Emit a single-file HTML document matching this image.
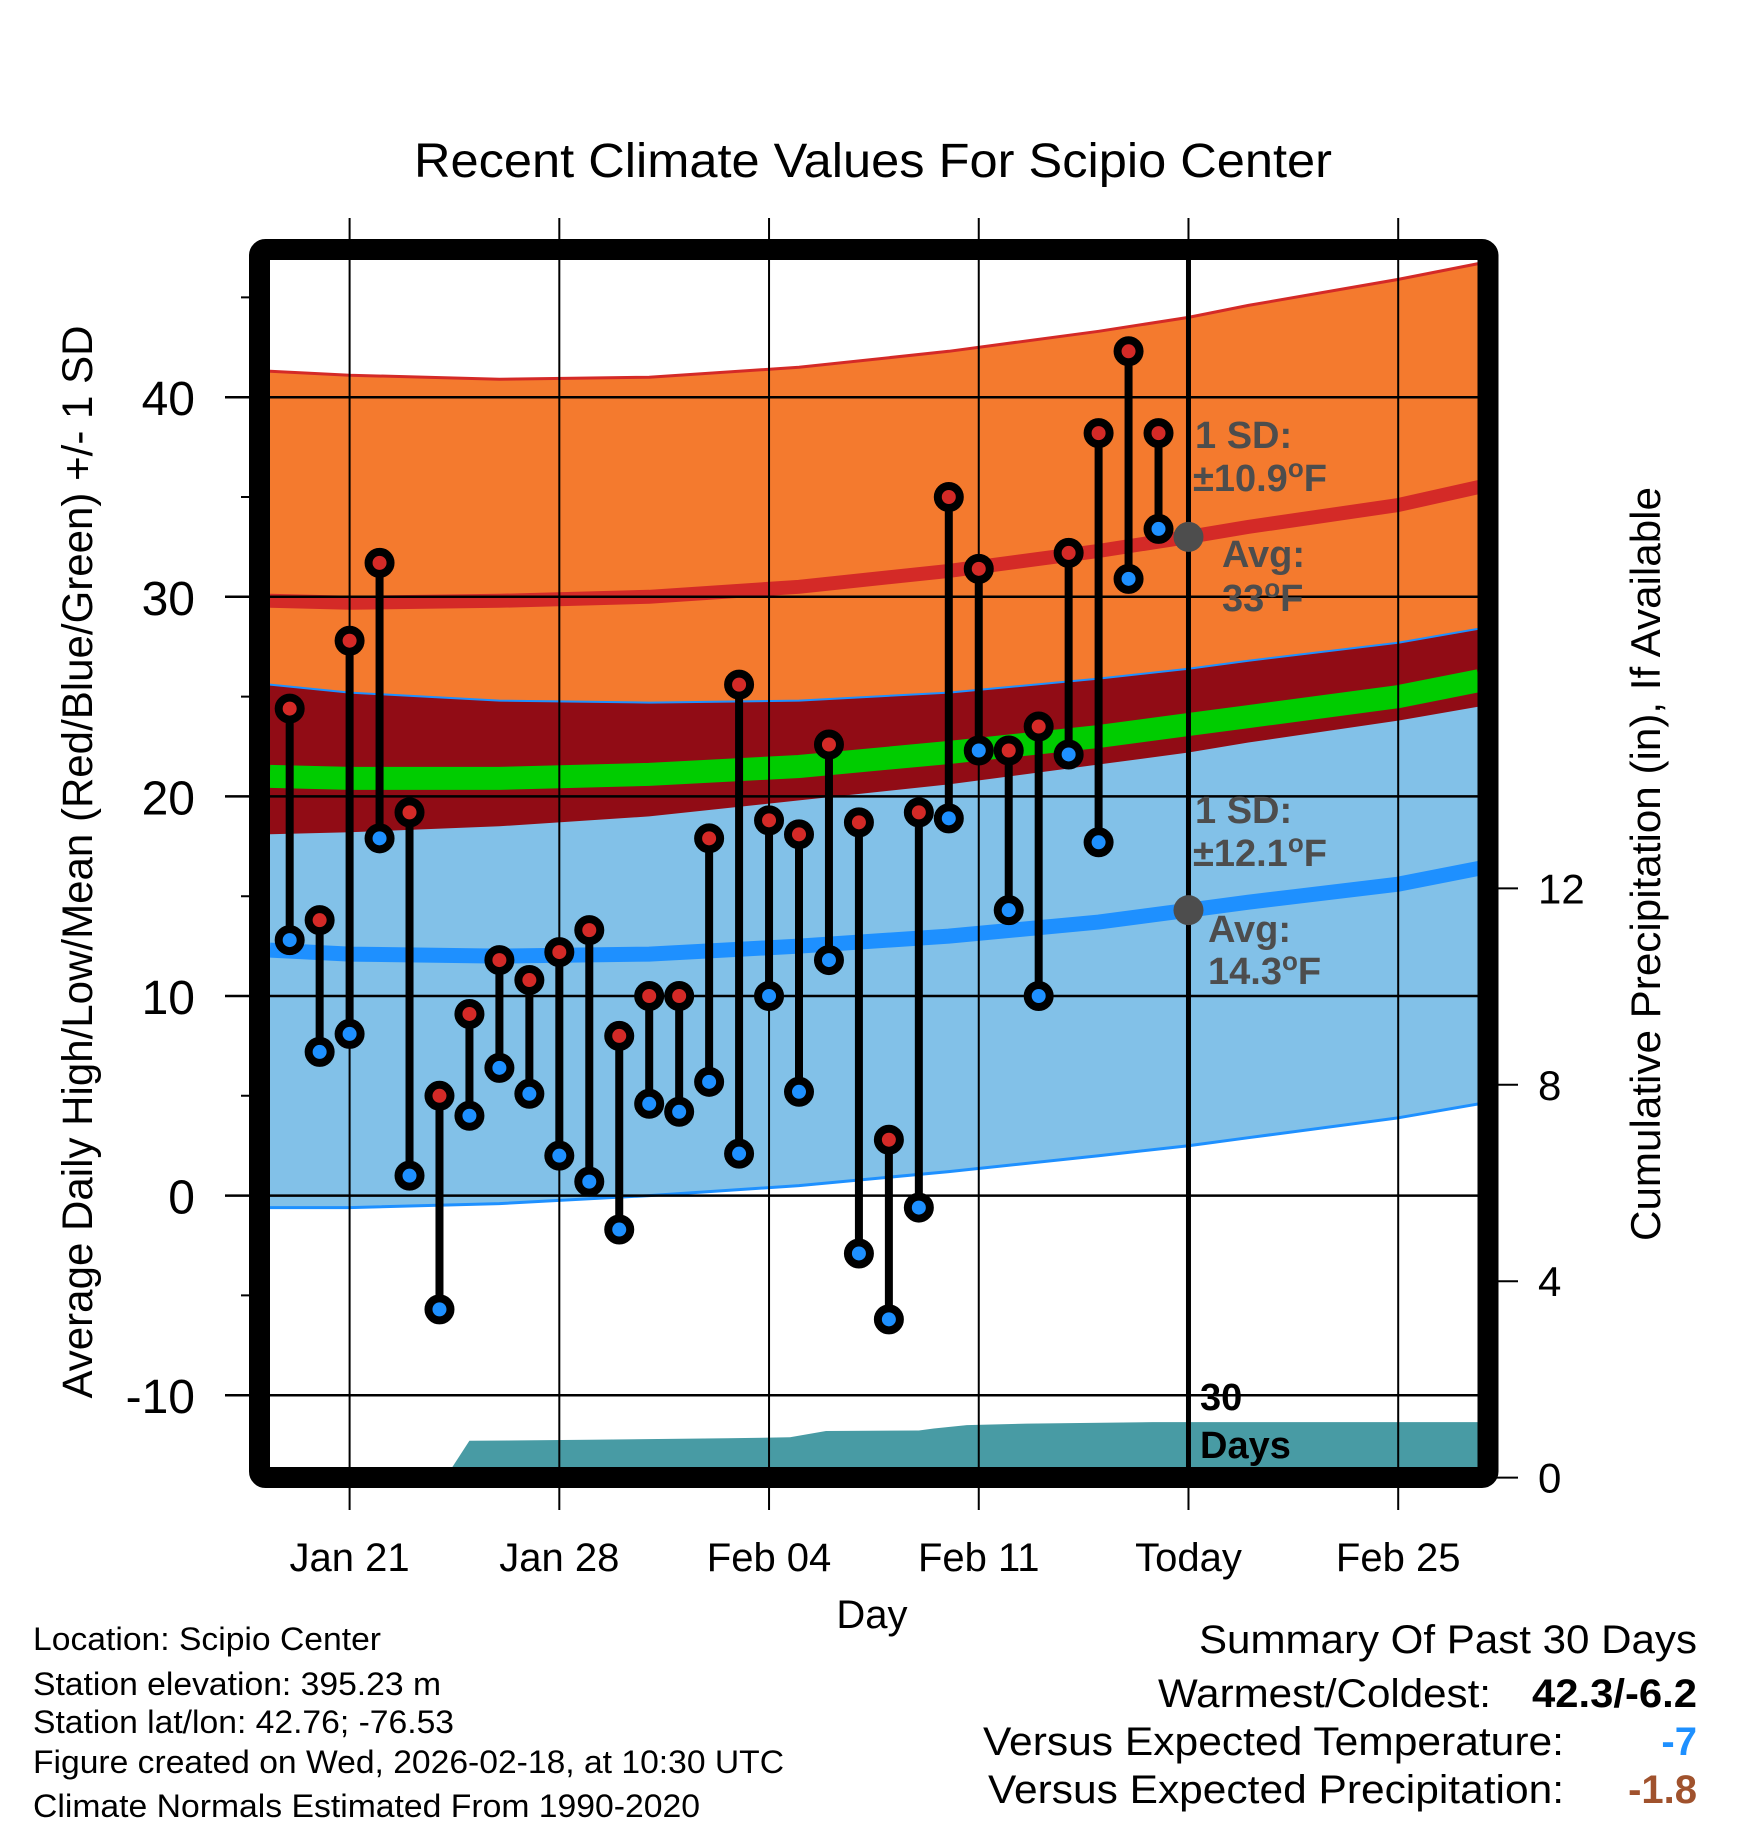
<!DOCTYPE html>
<html><head><meta charset="utf-8"><style>
html,body{margin:0;padding:0;background:#fff;}
svg{display:block;font-family:"Liberation Sans",sans-serif;}
</style></head><body>
<svg id="chart" width="1748" height="1828" viewBox="0 0 1748 1828" xmlns="http://www.w3.org/2000/svg">
<text x="873" y="177" font-size="48" text-anchor="middle" textLength="918" lengthAdjust="spacingAndGlyphs">Recent Climate Values For Scipio Center</text>
<g id="plot"></g>
<text transform="translate(92,862) rotate(-90)" font-size="43" text-anchor="middle" textLength="1073" lengthAdjust="spacingAndGlyphs">Average Daily High/Low/Mean (Red/Blue/Green) +/- 1 SD</text>
<text transform="translate(1660,864) rotate(-90)" font-size="42" text-anchor="middle" textLength="754" lengthAdjust="spacingAndGlyphs">Cumulative Precipitation (in), If Available</text>
<text x="872" y="1628" font-size="40" text-anchor="middle">Day</text>
<g font-size="32">
<text x="33" y="1650" textLength="348" lengthAdjust="spacingAndGlyphs">Location: Scipio Center</text>
<text x="33" y="1695" textLength="408" lengthAdjust="spacingAndGlyphs">Station elevation: 395.23 m</text>
<text x="33" y="1733" textLength="421" lengthAdjust="spacingAndGlyphs">Station lat/lon: 42.76; -76.53</text>
<text x="33" y="1773" textLength="751" lengthAdjust="spacingAndGlyphs">Figure created on Wed, 2026-02-18, at 10:30 UTC</text>
<text x="33" y="1817" textLength="667" lengthAdjust="spacingAndGlyphs">Climate Normals Estimated From 1990-2020</text>
</g>
<g font-size="40">
<text x="1199" y="1653" textLength="498" lengthAdjust="spacingAndGlyphs">Summary Of Past 30 Days</text>
<text x="1158" y="1707" textLength="333" lengthAdjust="spacingAndGlyphs">Warmest/Coldest:</text>
<text x="1532" y="1707" font-weight="bold" textLength="165" lengthAdjust="spacingAndGlyphs">42.3/-6.2</text>
<text x="983" y="1755" textLength="581" lengthAdjust="spacingAndGlyphs">Versus Expected Temperature:</text>
<text x="1697" y="1755" font-weight="bold" fill="#1e90ff" text-anchor="end">-7</text>
<text x="988" y="1803" textLength="576" lengthAdjust="spacingAndGlyphs">Versus Expected Precipitation:</text>
<text x="1697" y="1803" font-weight="bold" fill="#a0522d" text-anchor="end">-1.8</text>
</g>
</svg>
<script>
// ---- data ----
const dayOffsets = [-2,-1,0,1,2,3,4,5,6,7,8,9,10,11,12,13,14,15,16,17,18,19,20,21,22,23,24,25,26,27];
const highs = [24.4,13.8,27.8,31.7,19.2,5.0,9.1,11.8,10.8,12.2,13.3,8.0,10.0,10.0,17.9,25.6,18.8,18.1,22.6,18.7,2.8,19.2,35.0,31.4,22.3,23.5,32.2,38.2,42.3,38.2];
const lows = [12.8,7.2,8.1,17.9,1.0,-5.7,4.0,6.4,5.1,2.0,0.7,-1.7,4.6,4.2,5.7,2.1,10.0,5.2,11.8,-2.9,-6.2,-0.6,18.9,22.3,14.3,10.0,22.1,17.7,30.9,33.4];
const normDays = [-2.66,0,5,10,15,20,25,28,30,35,37.7];
const bandTop = [41.3,41.1,40.9,41.0,41.5,42.3,43.3,44.0,44.6,45.9,46.7];
const lowBandTop = [25.6,25.2,24.8,24.7,24.8,25.2,25.9,26.4,26.8,27.7,28.4];
const highBandBottom = [18.1,18.2,18.5,19.0,19.8,20.6,21.6,22.2,22.7,23.8,24.5];
const lowBandBottom = [-0.6,-0.6,-0.4,0.0,0.5,1.2,2.0,2.5,2.9,3.9,4.6];
const avgHigh = [29.8,29.7,29.8,30.0,30.5,31.3,32.3,33.0,33.5,34.6,35.5];
const avgLow = [12.3,12.1,12.0,12.1,12.5,13.0,13.7,14.3,14.7,15.6,16.4];
const avgMean = [21.0,20.9,20.9,21.1,21.5,22.2,23.0,23.6,24.0,25.0,25.8];
const precipDays = [-2.66,3.2,4,8,12.6,14.7,15.9,19.0,19.5,20.6,22.6,26.8,37.7];
const precipCum = [0,0,0.75,0.77,0.80,0.82,0.95,0.96,1.0,1.07,1.10,1.13,1.13];
const xTickDays = [0,7,14,21,28,35];
const xTickLabels = ["Jan 21","Jan 28","Feb 04","Feb 11","Today","Feb 25"];
const yTicks = [40,30,20,10,0,-10];
const yTickLabels = ["40","30","20","10","0","-10"];
const y2Ticks = [0,4,8,12];
const todayDay = 28;

// ---- axes ----
const L=270,R=1478,T=260,B=1468;
const x = d => 349.6 + 29.96*d;
const y = v => 1195.6 - 19.96*v;
const y2 = p => 1477.6 - 49.1*p;
const NS="http://www.w3.org/2000/svg";
const plot=document.getElementById('plot');
function mk(tag,attrs,parent){const e=document.createElementNS(NS,tag);for(const k in attrs)e.setAttribute(k,attrs[k]);(parent||plot).appendChild(e);return e;}
const clip=mk('clipPath',{id:'pc'});mk('rect',{x:L,y:T,width:R-L,height:B-T},clip);
const g=mk('g',{'clip-path':'url(#pc)'});
function linePts(xs,vs){return xs.map((d,i)=>x(d).toFixed(1)+','+y(vs[i]).toFixed(1));}
function band(top,bot,fill,name){
  const p=mk('polygon',{points:linePts(normDays,top).concat(linePts(normDays,bot).reverse()).join(' '),fill:fill},g);
  
  
}
band(bandTop,highBandBottom,'#f47a2e','high-sd-band');
band(lowBandTop,lowBandBottom,'#82c1e8','low-sd-band');
band(lowBandTop,highBandBottom,'#910c15','overlap-band');
function pl(vs,stroke,w,name){
  const e=mk('polyline',{points:linePts(normDays,vs).join(' '),fill:'none',stroke:stroke,'stroke-width':w},g);
  
  
}
pl(bandTop,'#d42a27',3,'high-sd-upper-line');
pl(lowBandTop,'#1e90ff',2,'low-sd-upper-line');
pl(lowBandBottom,'#1e90ff',3,'low-sd-lower-line');
pl(avgMean,'#00cc00',23,'avg-mean-line');
pl(avgHigh,'#d42a27',14,'avg-high-line');
pl(avgLow,'#1e90ff',15,'avg-low-line');
// precip
const pp=precipDays.map((d,i)=>x(d).toFixed(1)+','+y2(precipCum[i]).toFixed(1));
const pe=mk('polygon',{points:pp.join(' ')+' '+x(37.7)+','+B+' '+x(-2.66)+','+B,fill:'#489ba4'},g);


// grid
yTicks.forEach(v=>{
  const e=mk('line',{x1:L,x2:R,y1:y(v),y2:y(v),stroke:'#000','stroke-width':2.5},g);
  
  
});
xTickDays.forEach((d,i)=>{
  const e=mk('line',{x1:x(d),x2:x(d),y1:218,y2:1510,stroke:'#000','stroke-width':2});
  
  
  const t=mk('text',{x:x(d),y:1571,'font-size':40,'text-anchor':'middle'});
  t.textContent=xTickLabels[i];
  
  
});
// today line
const tl=mk('line',{x1:x(todayDay),x2:x(todayDay),y1:T,y2:B,stroke:'#000','stroke-width':5});


// y ticks
yTicks.forEach((v,i)=>{
  const e=mk('line',{x1:225,x2:L,y1:y(v),y2:y(v),stroke:'#000','stroke-width':2.5});
  
  
  const t=mk('text',{x:195,y:y(v)+18,'font-size':48,'text-anchor':'end'});
  t.textContent=yTickLabels[i];
  
  
});
[45,35,25,15,5,-5].forEach(v=>{
  const e=mk('line',{x1:241,x2:L,y1:y(v),y2:y(v),stroke:'#000','stroke-width':2});
  
  
});
y2Ticks.forEach(p=>{
  const e=mk('line',{x1:1488,x2:1518,y1:y2(p),y2:y2(p),stroke:'#000','stroke-width':2});
  
  
  const t=mk('text',{x:1538,y:y2(p)+15,'font-size':42});
  t.textContent=String(p);
  
  
});
// annotations
function ann(txt,xx,yy,sz,fill,name){
  const t=mk('text',{x:xx,y:yy,'font-size':sz,'font-weight':'bold',fill:fill});
  t.innerHTML=txt;
  
  
}
ann('1 SD:',1195,448,38,'#4d4d4d','high-sd-label');
ann('±10.9<tspan dy="-14" font-size="26">o</tspan><tspan dy="14">F</tspan>',1193,491,38,'#4d4d4d','high-sd-value');
ann('Avg:',1222,567,38,'#4d4d4d','high-avg-label');
ann('33<tspan dy="-14" font-size="26">o</tspan><tspan dy="14">F</tspan>',1222,611,38,'#4d4d4d','high-avg-value');
ann('1 SD:',1195,823,38,'#4d4d4d','low-sd-label');
ann('±12.1<tspan dy="-14" font-size="26">o</tspan><tspan dy="14">F</tspan>',1193,866,38,'#4d4d4d','low-sd-value');
ann('Avg:',1208,942,38,'#4d4d4d','low-avg-label');
ann('14.3<tspan dy="-14" font-size="26">o</tspan><tspan dy="14">F</tspan>',1208,984,38,'#4d4d4d','low-avg-value');
ann('30',1200,1410,38,'#000','days-count-label');
ann('Days',1200,1458,38,'#000','days-label');
// stems & markers
dayOffsets.forEach((d,i)=>{
  const s=mk('line',{x1:x(d),x2:x(d),y1:y(highs[i]),y2:y(lows[i]),stroke:'#000','stroke-width':8});
  
  
});
dayOffsets.forEach((d,i)=>{
  const h=mk('circle',{cx:x(d),cy:y(highs[i]),r:11,fill:'#d42a27',stroke:'#000','stroke-width':8});
  
  
  const l=mk('circle',{cx:x(d),cy:y(lows[i]),r:11,fill:'#1e90ff',stroke:'#000','stroke-width':8});
  
  
});
[[avgHigh[7],'today-avg-high-dot'],[avgLow[7],'today-avg-low-dot']].forEach(a=>{
  const c=mk('circle',{cx:x(todayDay),cy:y(a[0]),r:15,fill:'#4d4d4d'});
  
  
});
// frame
const fr=mk('rect',{x:259.5,y:249.5,width:1228.5,height:1228,fill:'none',stroke:'#000','stroke-width':21,rx:6});


</script>
</body></html>
